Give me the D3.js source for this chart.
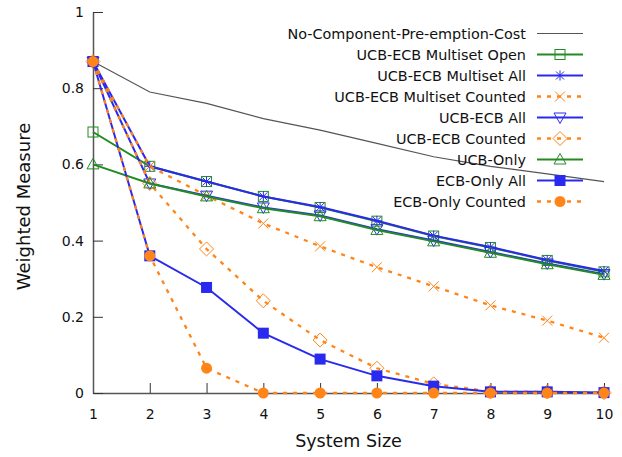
<!DOCTYPE html>
<html>
<head>
<meta charset="utf-8">
<script src="https://cdn.jsdelivr.net/npm/d3@7"></script>
<style>
  body { margin: 0; background: #fff; }
  text { font-family: "DejaVu Sans", Verdana, sans-serif; fill: #111; }
</style>
</head>
<body>
<div id="chart"></div>
<script>
// Data
var systemSize = [1, 2, 3, 4, 5, 6, 7, 8, 9, 10];
var yTicks = [0, 0.2, 0.4, 0.6, 0.8, 1];

var noPreemption     = [0.87, 0.79, 0.76, 0.72, 0.69, 0.655, 0.62, 0.595, 0.575, 0.555];
var multisetOpen     = [0.685, 0.595, 0.555, 0.516, 0.487, 0.451, 0.412, 0.382, 0.348, 0.318];
var multisetAll      = [0.87, 0.595, 0.555, 0.516, 0.488, 0.452, 0.413, 0.383, 0.349, 0.32];
var multisetCounted  = [0.87, 0.595, 0.518, 0.445, 0.385, 0.33, 0.28, 0.23, 0.19, 0.145];
var ucbEcbAll        = [0.87, 0.55, 0.518, 0.487, 0.466, 0.43, 0.4, 0.37, 0.34, 0.312];
var ucbEcbCounted    = [0.87, 0.55, 0.378, 0.242, 0.139, 0.065, 0.024, 0.004, 0.003, 0.001];
var ucbOnly          = [0.6, 0.55, 0.516, 0.485, 0.464, 0.428, 0.398, 0.368, 0.338, 0.31];
var ecbOnlyAll       = [0.87, 0.36, 0.277, 0.157, 0.089, 0.045, 0.018, 0.003, 0.003, 0.001];
var ecbOnlyCounted   = [0.87, 0.36, 0.065, 0, 0, 0, 0, 0, 0, 0];

var green = '#228b22', blue = '#2a2aee', orange = '#ff8518';

var series = [
    {name: 'No-Component-Pre-emption-Cost', values: noPreemption, color: '#555', width: 1.2, dash: null, marker: null},
    {name: 'UCB-ECB Multiset Open', values: multisetOpen, color: green, width: 2, dash: null, marker: 'square'},
    {name: 'UCB-ECB Multiset All', values: multisetAll, color: blue, width: 2, dash: null, marker: 'star'},
    {name: 'UCB-ECB Multiset Counted', values: multisetCounted, color: orange, width: 2.3, dash: '4,6', marker: 'cross'},
    {name: 'UCB-ECB All', values: ucbEcbAll, color: blue, width: 2, dash: null, marker: 'invtri'},
    {name: 'UCB-ECB Counted', values: ucbEcbCounted, color: orange, width: 2.3, dash: '4,6', marker: 'diamond'},
    {name: 'UCB-Only', values: ucbOnly, color: green, width: 2, dash: null, marker: 'tri'},
    {name: 'ECB-Only All', values: ecbOnlyAll, color: blue, width: 2, dash: null, marker: 'fsquare'},
    {name: 'ECB-Only Counted', values: ecbOnlyCounted, color: orange, width: 2.3, dash: '4,6', marker: 'fcircle'}
];

var W = 622, H = 457;
var margin = {top: 12, right: 18, bottom: 64, left: 93};
var width = W - margin.left - margin.right;
var height = H - margin.top - margin.bottom;

var svg = d3.select('#chart').append('svg')
    .attr('width', W)
    .attr('height', H);

var g = svg.append('g')
    .attr('transform', 'translate(' + margin.left + ',' + margin.top + ')');

var x = d3.scaleLinear().domain([1, 10]).range([0, width]);
var y = d3.scaleLinear().domain([0, 1]).range([height, 0]);

// axes, gnuplot style: ticks pointing inward
var xAxis = g.append('g')
    .attr('transform', 'translate(0,' + height + ')')
    .call(d3.axisBottom(x).tickValues(systemSize).tickFormat(d3.format('d')).tickSizeInner(-10).tickSizeOuter(0).tickPadding(16));
var yAxis = g.append('g')
    .call(d3.axisLeft(y).tickValues(yTicks).tickFormat(function(d) { return d === 0 || d === 1 ? d : d3.format('.1f')(d); })
        .tickSizeInner(-10).tickSizeOuter(0).tickPadding(9));

[xAxis, yAxis].forEach(function(a) {
    a.select('.domain').attr('stroke', '#555').attr('stroke-width', 1.5);
    a.selectAll('.tick line').attr('stroke', '#333').attr('stroke-width', 1);
    a.selectAll('.tick text').style('font-size', '14px').style('font-family', '"DejaVu Sans", sans-serif').attr('fill', '#111');
});

// axis titles
svg.append('text')
    .attr('x', margin.left + width / 2)
    .attr('y', 447)
    .attr('text-anchor', 'middle')
    .style('font-size', '17.5px')
    .text('System Size');
svg.append('text')
    .attr('transform', 'translate(30,' + (margin.top + height / 2 + 4) + ') rotate(-90)')
    .attr('text-anchor', 'middle')
    .style('font-size', '18px')
    .text('Weighted Measure');

// marker drawing
function drawMarker(sel, type, color) {
    var s = 5;
    if (type === 'square') {
        sel.append('rect').attr('x', -s).attr('y', -s).attr('width', 2 * s).attr('height', 2 * s)
            .attr('fill', 'none').attr('stroke', color).attr('stroke-width', 1);
    } else if (type === 'fsquare') {
        sel.append('rect').attr('x', -5.5).attr('y', -5.5).attr('width', 11).attr('height', 11)
            .attr('fill', color).attr('stroke', 'none');
    } else if (type === 'fcircle') {
        sel.append('circle').attr('r', 5.5).attr('fill', color);
    } else if (type === 'star') {
        sel.append('path').attr('d', 'M-5,0H5M0,-5V5M-4,-4L4,4M-4,4L4,-4')
            .attr('stroke', color).attr('stroke-width', 1).attr('fill', 'none');
    } else if (type === 'cross') {
        sel.append('path').attr('d', 'M-5,-5L5,5M-5,5L5,-5')
            .attr('stroke', color).attr('stroke-width', 1).attr('fill', 'none');
    } else if (type === 'diamond') {
        sel.append('path').attr('d', 'M0,-7L7,0L0,7L-7,0Z')
            .attr('stroke', color).attr('stroke-width', 1).attr('fill', 'none');
    } else if (type === 'tri') {
        sel.append('path').attr('d', 'M0,-6L6,4.5L-6,4.5Z')
            .attr('stroke', color).attr('stroke-width', 1).attr('fill', 'none');
    } else if (type === 'invtri') {
        sel.append('path').attr('d', 'M0,6L6,-4.5L-6,-4.5Z')
            .attr('stroke', color).attr('stroke-width', 1).attr('fill', 'none');
    }
}

var line = d3.line()
    .x(function(d, i) { return x(systemSize[i]); })
    .y(function(d) { return y(d); });

series.forEach(function(s) {
    g.append('path')
        .attr('d', line(s.values))
        .attr('fill', 'none')
        .attr('stroke', s.color)
        .attr('stroke-width', s.width)
        .attr('stroke-dasharray', s.dash);
    if (s.marker) {
        s.values.forEach(function(v, i) {
            var m = g.append('g').attr('transform', 'translate(' + x(systemSize[i]) + ',' + y(v) + ')');
            drawMarker(m, s.marker, s.color);
        });
    }
});

// legend (right aligned text, sample line to the right)
var legend = svg.append('g');
series.forEach(function(s, i) {
    var ly = 33.5 + i * 21;
    legend.append('text')
        .attr('x', 526)
        .attr('y', ly)
        .attr('dy', '0.35em')
        .attr('text-anchor', 'end')
        .style('font-size', '14.4px')
        .text(s.name);
    legend.append('line')
        .attr('x1', 537).attr('x2', 583)
        .attr('y1', ly).attr('y2', ly)
        .attr('stroke', s.color)
        .attr('stroke-width', s.width)
        .attr('stroke-dasharray', s.dash);
    if (s.marker) {
        var m = legend.append('g').attr('transform', 'translate(560,' + ly + ')');
        drawMarker(m, s.marker, s.color);
    }
});
</script>
</body>
</html>
